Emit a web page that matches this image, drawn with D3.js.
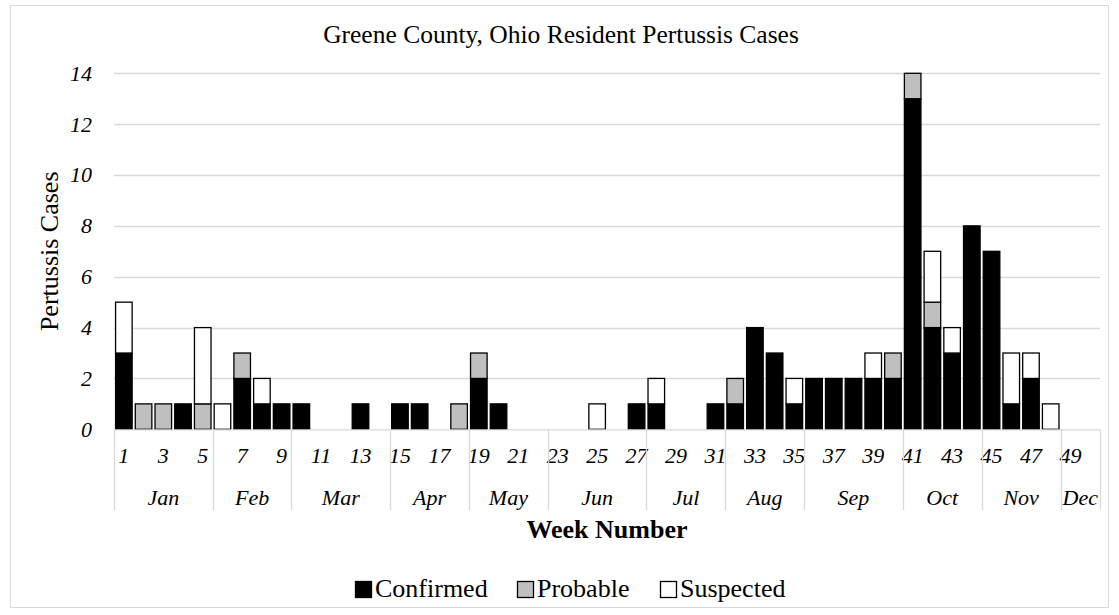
<!DOCTYPE html>
<html>
<head>
<meta charset="utf-8">
<script src="https://cdn.jsdelivr.net/npm/d3@7"></script>
</head>
<body style="margin:0;background:#fff">
<div id="chart"></div>
<script>
// weekly case counts, weeks 1..50
var weeks = d3.range(1, 51)
var confirmed = [3,0,0,1,0,0,2,1,1,1, 0,0,1,0,1,1,0,0,2,1, 0,0,0,0,0,0,1,1,0,0, 1,1,4,3,1,2,2,2,2,2, 13,4,3,8,7,1,2,0,0,0]
var probable  = [0,1,1,0,1,0,1,0,0,0, 0,0,0,0,0,0,0,1,1,0, 0,0,0,0,0,0,0,0,0,0, 0,1,0,0,0,0,0,0,0,1, 1,1,0,0,0,0,0,0,0,0]
var suspected = [2,0,0,0,3,1,0,1,0,0, 0,0,0,0,0,0,0,0,0,0, 0,0,0,0,1,0,0,1,0,0, 0,0,0,0,1,0,0,0,1,0, 0,2,1,0,0,2,1,1,0,0]

var months = ["Jan", "Feb", "Mar", "Apr", "May", "Jun", "Jul", "Aug", "Sep", "Oct", "Nov", "Dec"]
var monthWeeks = [5, 4, 5, 4, 4, 5, 4, 4, 5, 4, 4, 2]
var yTicks = [0, 2, 4, 6, 8, 10, 12, 14]
var seriesNames = ["Confirmed", "Probable", "Suspected"]
var seriesColors = ["#000000", "#bfbfbf", "#ffffff"]

var width = 1119,
    height = 615
var plot = { left: 114, right: 1100, top: 73.3, bottom: 429.3 }
var grid_color = "#d9d9d9"

var svg = d3.select("#chart").append("svg")
  .attr("width", width)
  .attr("height", height)

// outer chart frame
svg.append("rect")
  .attr("x", 10.5)
  .attr("y", 5.5)
  .attr("width", 1098)
  .attr("height", 602)
  .attr("fill", "#fff")
  .attr("stroke", grid_color)

var x = d3.scaleBand()
  .domain(weeks)
  .range([plot.left, plot.right])
var y = d3.scaleLinear()
  .domain([0, 14])
  .range([plot.bottom, plot.top])

// gridlines + y labels
svg.append("g").selectAll("line")
  .data(yTicks.filter(function (d) { return d > 0 }))
  .join("line")
    .attr("x1", plot.left)
    .attr("x2", plot.right)
    .attr("y1", function (d) { return Math.round(y(d)) + 0.5 })
    .attr("y2", function (d) { return Math.round(y(d)) + 0.5 })
    .attr("stroke", grid_color)
    .attr("stroke-width", 1.3)

svg.append("g").selectAll("text")
  .data(yTicks)
  .join("text")
    .attr("x", 92)
    .attr("y", function (d) { return y(d) })
    .attr("dy", "0.34em")
    .attr("text-anchor", "end")
    .attr("font-style", "italic")
    .attr("font-size", 22)
    .text(function (d) { return d })

// stacked bars
var rows = weeks.map(function (w, i) {
  return { week: w, Confirmed: confirmed[i], Probable: probable[i], Suspected: suspected[i] }
})
var stacked = d3.stack().keys(seriesNames)(rows)

var barPad = 0.08
var bars = svg.append("g")
stacked.forEach(function (layer, k) {
  bars.append("g")
    .attr("fill", seriesColors[k])
    .attr("stroke", "#000")
    .attr("stroke-width", 1.3)
    .selectAll("rect")
    .data(layer.filter(function (d) { return d[1] > d[0] }))
    .join("rect")
      .attr("x", function (d) { return x(d.data.week) + x.bandwidth() * barPad })
      .attr("width", x.bandwidth() * (1 - 2 * barPad))
      .attr("y", function (d) { return y(d[1]) })
      .attr("height", function (d) { return y(d[0]) - y(d[1]) })
})

// category axis: baseline, week numbers, month groups
var axis = svg.append("g")
axis.append("line")
  .attr("x1", plot.left)
  .attr("x2", plot.right)
  .attr("y1", plot.bottom + 0.5)
  .attr("y2", plot.bottom + 0.5)
  .attr("stroke", grid_color)
  .attr("stroke-width", 1.3)

axis.selectAll("text.week")
  .data(weeks.filter(function (w) { return w % 2 == 1 }))
  .join("text")
    .attr("class", "week")
    .attr("x", function (w) { return x(w) + x.bandwidth() / 2 })
    .attr("y", 463)
    .attr("text-anchor", "middle")
    .attr("font-style", "italic")
    .attr("font-size", 22)
    .text(function (w) { return w })

var monthSpans = []
var start = 1
months.forEach(function (m, i) {
  monthSpans.push({ name: m, first: start, last: start + monthWeeks[i] - 1 })
  start += monthWeeks[i]
})

axis.selectAll("line.sep")
  .data([monthSpans[0].first].concat(monthSpans.map(function (s) { return s.last })))
  .join("line")
    .attr("class", "sep")
    .attr("x1", function (w, i) { return Math.round(i == 0 ? x(w) : x(w) + x.bandwidth()) + 0.5 })
    .attr("x2", function (w, i) { return Math.round(i == 0 ? x(w) : x(w) + x.bandwidth()) + 0.5 })
    .attr("y1", plot.bottom)
    .attr("y2", 510)
    .attr("stroke", grid_color)
    .attr("stroke-width", 1.3)

axis.selectAll("text.month")
  .data(monthSpans)
  .join("text")
    .attr("class", "month")
    .attr("x", function (s) { return (x(s.first) + x(s.last) + x.bandwidth()) / 2 })
    .attr("y", 505)
    .attr("text-anchor", "middle")
    .attr("font-style", "italic")
    .attr("font-size", 22)
    .text(function (s) { return s.name })

// titles
svg.append("text")
  .attr("x", 561)
  .attr("y", 43)
  .attr("text-anchor", "middle")
  .attr("font-size", 25.5)
  .text("Greene County, Ohio Resident Pertussis Cases")

svg.append("text")
  .attr("transform", "translate(58," + ((plot.top + plot.bottom) / 2) + ") rotate(-90)")
  .attr("text-anchor", "middle")
  .attr("font-size", 26)
  .text("Pertussis Cases")

svg.append("text")
  .attr("x", (plot.left + plot.right) / 2)
  .attr("y", 538)
  .attr("text-anchor", "middle")
  .attr("font-weight", "bold")
  .attr("font-size", 26)
  .text("Week Number")

// legend: square + label per series, positions
var legendX = [355, 517, 660]
var legend = svg.append("g").attr("transform", "translate(0,597)")
seriesNames.forEach(function (name, i) {
  var item = legend.append("g").attr("transform", "translate(" + legendX[i] + ",0)")
  item.append("rect")
    .attr("x", 0.5)
    .attr("y", -15.5)
    .attr("width", 16)
    .attr("height", 16)
    .attr("fill", seriesColors[i])
    .attr("stroke", "#000")
    .attr("stroke-width", 1.3)
  item.append("text")
    .attr("x", 20)
    .attr("y", 0)
    .attr("font-size", 26)
    .text(name)
})

// serif face set inline on each text
svg.selectAll("text")
  .style("font-family", "'Liberation Serif'")
</script>
</body>
</html>
